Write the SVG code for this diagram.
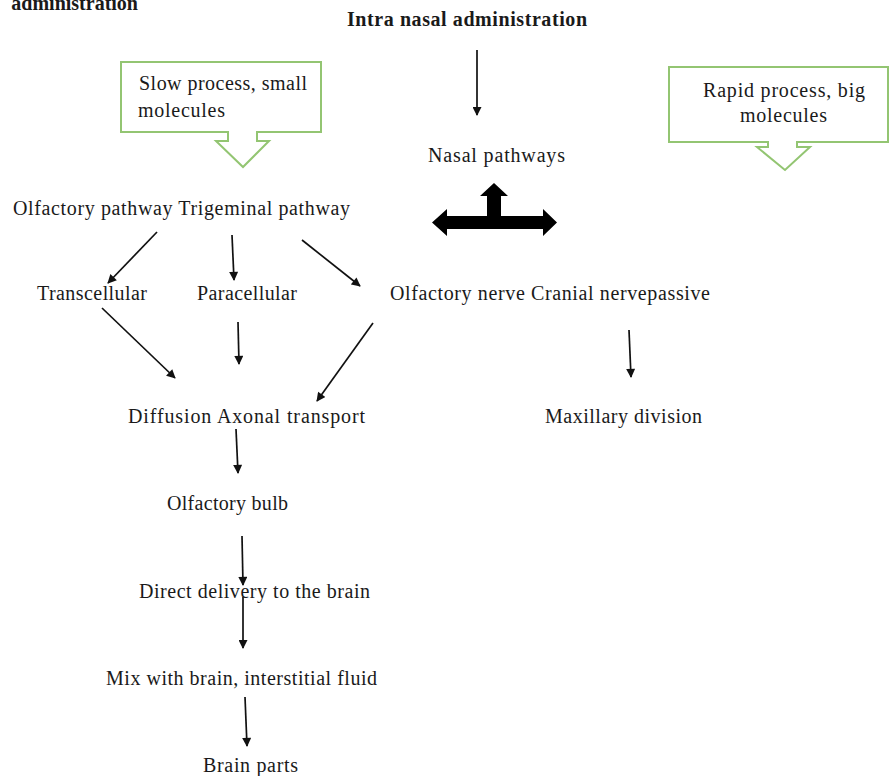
<svg xmlns="http://www.w3.org/2000/svg" width="890" height="776" viewBox="0 0 890 776">
<style>
text{font-family:"Liberation Serif","Times New Roman",serif;font-size:20px;fill:#1a1a1a}
.b{font-weight:bold}
.call{fill:#fff;stroke:#93c572;stroke-width:2}
.ln{stroke:#111;stroke-width:1.7;fill:none;marker-end:url(#ah)}
</style>
<defs>
<marker id="ah" viewBox="0 0 10 10" refX="9" refY="5" markerWidth="10" markerHeight="9" orient="auto" markerUnits="userSpaceOnUse">
<path d="M0,0 L10,5 L0,10 Z" fill="#111"/>
</marker>
</defs>
<rect width="890" height="776" fill="#fff"/>
<text class="b" x="138" y="10" text-anchor="end" font-size="20">administration</text>
<g id="title"><text class="b" x="347" y="26" textLength="240" font-size="18">Intra nasal administration</text></g>
<g id="slow">
<path class="call" d="M121,62 H321 V132 H257 V141 H269 L243,167 L216,141 H228 V132 H121 Z"/>
<text x="139" y="90" textLength="168">Slow process, small</text>
<text x="138" y="117" textLength="87">molecules</text>
</g>
<g id="rapid">
<path class="call" d="M669,67 H888 V142 H797 V147 H810 L785,170 L757,147 H768 V142 H669 Z"/>
<text x="703" y="97" textLength="162">Rapid process,  big</text>
<text x="740" y="122" textLength="87">molecules</text>
</g>
<g id="nasal"><text x="428" y="162" textLength="137">Nasal pathways</text></g>
<g id="tarrow"><path d="M432,222.5 L447,209 V216 H487 V196 H480 L494,183 L508,196 H501 V216 H543 V209 L557,222.5 L543,236 V229 H447 V236 Z" fill="#000"/></g>
<g id="pathways"><text x="13" y="215" textLength="337">Olfactory pathway Trigeminal pathway</text></g>
<g id="transcellular"><text x="37" y="300" textLength="110">Transcellular</text></g>
<g id="paracellular"><text x="197" y="300" textLength="100">Paracellular</text></g>
<g id="nerves"><text x="390" y="300" textLength="320">Olfactory nerve Cranial nervepassive</text></g>
<g id="diffusion"><text x="128" y="423" textLength="237">Diffusion  Axonal transport</text></g>
<g id="maxillary"><text x="545" y="423" textLength="157">Maxillary division</text></g>
<g id="bulb"><text x="167" y="510" textLength="121">Olfactory bulb</text></g>
<g id="direct"><text x="139" y="598" textLength="231">Direct  delivery to the brain</text></g>
<g id="mix"><text x="106" y="685" textLength="271">Mix with brain, interstitial fluid</text></g>
<g id="parts"><text x="203" y="772" textLength="95">Brain parts</text></g>
<g id="connectors">
<line class="ln" x1="477" y1="50" x2="477" y2="115"/>
<line class="ln" x1="157" y1="232" x2="108" y2="283"/>
<line class="ln" x1="232" y1="235" x2="234" y2="280"/>
<line class="ln" x1="302" y1="240" x2="360" y2="286"/>
<line class="ln" x1="102" y1="308" x2="175" y2="378"/>
<line class="ln" x1="238" y1="322" x2="239" y2="364"/>
<line class="ln" x1="373" y1="323" x2="317" y2="401"/>
<line class="ln" x1="629" y1="330" x2="631" y2="377"/>
<line class="ln" x1="236" y1="429" x2="238" y2="473"/>
<line class="ln" x1="242" y1="536" x2="243" y2="585"/>
<line class="ln" x1="243" y1="597" x2="243" y2="648"/>
<line class="ln" x1="245" y1="697" x2="247" y2="746"/>
</g>
</svg>
